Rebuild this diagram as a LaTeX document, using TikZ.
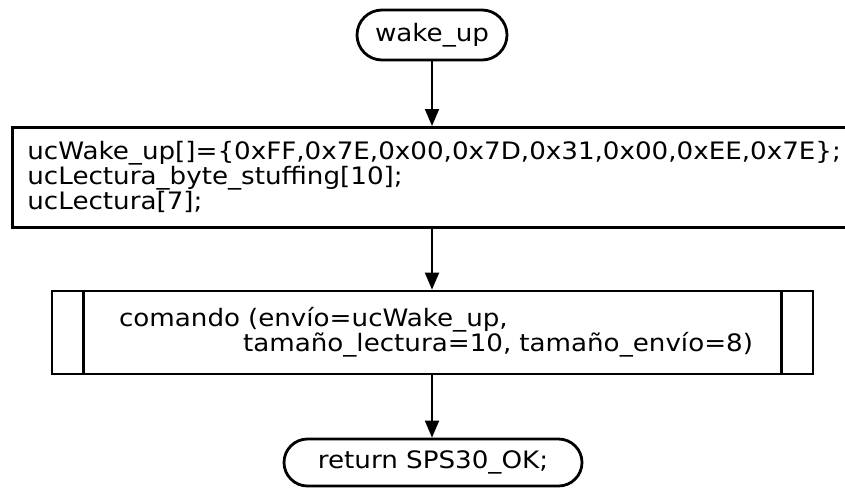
\documentclass[tikz,border=0pt]{standalone}
\usepackage{fontspec}
\setmainfont{DejaVu Sans}[FakeStretch=1.09]
\usetikzlibrary{arrows.meta,shapes.misc}
\begin{document}
\begin{tikzpicture}[x=1pt,y=-1pt,
  every node/.style={font=\fontsize{24pt}{25pt}\selectfont},
  box/.style={draw, line width=2.8pt},
  term/.style={box, rounded rectangle, inner sep=0pt},
  arr/.style={draw, line width=2pt, -{Triangle[length=17pt,width=14pt]}}
]
\useasboundingbox (0,0) rectangle (845,488);
\clip (0,0) rectangle (845,488);

% start terminal
\node[term, minimum width=150pt, minimum height=50pt] (start) at (432,35) {wake\_up};

% variable declarations
\node[box, anchor=north west, minimum width=860pt, minimum height=100pt,
      inner xsep=13pt, inner ysep=0pt, text width=830pt, align=left]
  (proc) at (11,126)
  {ucWake\_up[]=\{0xFF,0x7E,0x00,0x7D,0x31,0x00,0xEE,0x7E\};\\
   ucLectura\_byte\_stuffing[10];\\
   ucLectura[7];};

% predefined process (subroutine call)
\node[box, minimum width=761pt, minimum height=83pt, inner sep=0pt,
      text width=761pt, align=left]
  (sub) at (432.5,332.5)
  {\hspace*{67pt}comando (envío=ucWake\_up,\\
   \hspace*{191pt}tamaño\_lectura=10, tamaño\_envío=8)};
\draw[box] ([xshift=33pt]sub.north west) -- ([xshift=33pt]sub.south west);
\draw[box] ([xshift=-33pt]sub.north east) -- ([xshift=-33pt]sub.south east);

% end terminal
\node[term, minimum width=298pt, minimum height=47pt] (ret) at (433,462.5) {return SPS30\_OK;};

% connectors
\draw[arr] (start.south) -- (start.south |- proc.north);
\draw[arr] (start.south |- proc.south) -- (start.south |- sub.north);
\draw[arr] (start.south |- sub.south) -- (start.south |- ret.north);
\end{tikzpicture}
\end{document}
